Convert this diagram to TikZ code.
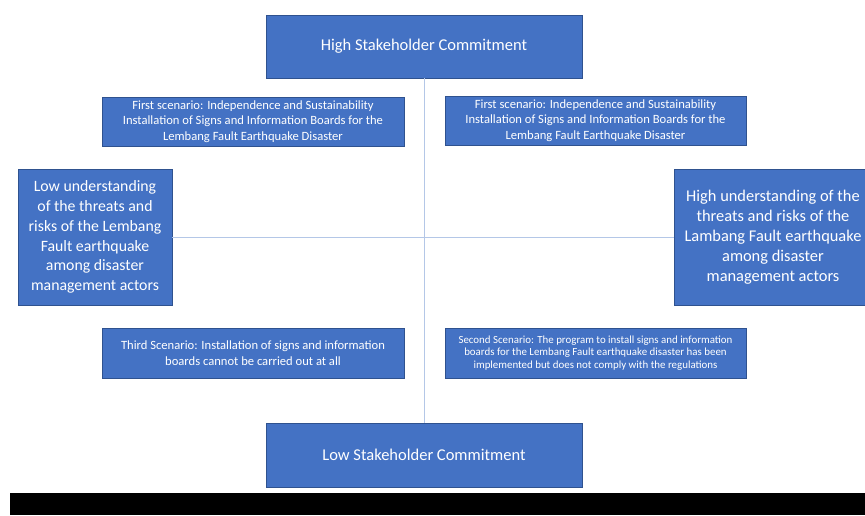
\documentclass[tikz,border=0pt]{standalone}
\usepackage{fontspec}
\setmainfont{Carlito}
\definecolor{boxfill}{HTML}{4472C4}
\definecolor{boxedge}{HTML}{2F528F}
\definecolor{axisline}{HTML}{B4C7E7}
\tikzset{
  box/.style={draw=boxedge, fill=boxfill, line width=0.8pt, text=white, align=center, inner sep=0pt},
  axisln/.style={draw=axisline, line width=1pt},
  bigfont/.style={font=\fontsize{16.5}{19}\selectfont},
  scenfont/.style={font=\fontsize{12.6}{15.5}\selectfont},
  smallfont/.style={font=\fontsize{10.9}{12.5}\selectfont},
}
\begin{document}
\begin{tikzpicture}[x=1pt,y=-1pt]
\useasboundingbox (0,0) rectangle (865,515);
\fill[black] (10,493) rectangle (865,515);
\node[box, bigfont, minimum width=316pt, minimum height=63pt] (top) at (424,46.5) {High Stakeholder Commitment};
\node[box, bigfont, minimum width=316pt, minimum height=64pt] (bottom) at (424,455) {Low Stakeholder Commitment};
\node[box, font=\fontsize{15.8}{19.8}\selectfont, minimum width=154pt, minimum height=136pt] (left) at (95,237) {Low understanding\\of the threats and\\risks of the Lembang\\Fault earthquake\\among disaster\\management actors};
\node[box, font=\fontsize{16.4}{20}\selectfont, minimum width=198pt, minimum height=136pt] (right) at (773,237) {High understanding of the\\threats and risks of the\\Lambang Fault earthquake\\among disaster\\management actors};
\draw[axisln] (top.south) -- (bottom.north);
\draw[axisln] (left.east) -- (right.west);
\node[box, scenfont, minimum width=302pt, minimum height=49pt] (firstL) at (253,121.5) {First scenario: Independence and Sustainability\\Installation of Signs and Information Boards for the\\Lembang Fault Earthquake Disaster};
\node[box, scenfont, minimum width=301pt, minimum height=49pt] (firstR) at (595.5,120.5) {First scenario: Independence and Sustainability\\Installation of Signs and Information Boards for the\\Lembang Fault Earthquake Disaster};
\node[box, scenfont, minimum width=302pt, minimum height=50pt] (third) at (253,353) {Third Scenario: Installation of signs and information\\boards cannot be carried out at all};
\node[box, smallfont, minimum width=301pt, minimum height=50pt] (second) at (595.5,353) {Second Scenario: The program to install signs and information\\boards for the Lembang Fault earthquake disaster has been\\implemented but does not comply with the regulations};
\end{tikzpicture}
\end{document}
